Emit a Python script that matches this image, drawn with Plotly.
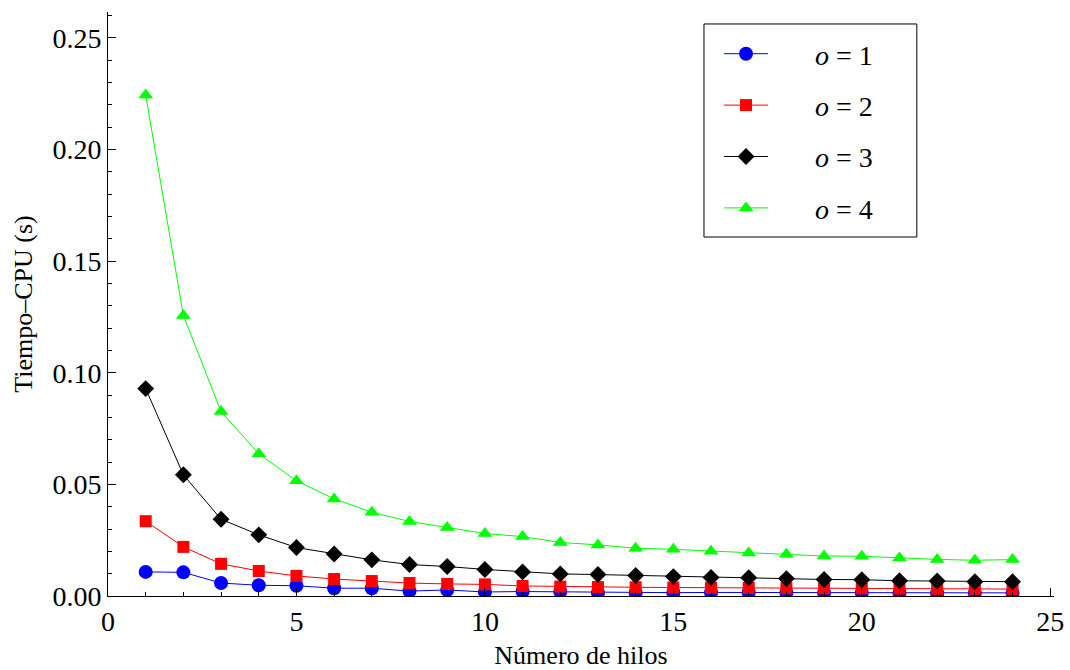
import plotly.graph_objects as go

# Número de hilos (threads)
hilos = list(range(1, 25))

# Tiempo-CPU (s) for each order o
t_o1 = [0.0108, 0.0106, 0.0058, 0.0048, 0.0046, 0.0035, 0.0035, 0.0022, 0.0027, 0.0018,
        0.0020, 0.0019, 0.0015, 0.0015, 0.0015, 0.0016, 0.0016, 0.0015, 0.0015, 0.0015,
        0.0014, 0.0013, 0.0014, 0.0014]
t_o2 = [0.0335, 0.0220, 0.0144, 0.0112, 0.0090, 0.0076, 0.0067, 0.0058, 0.0054, 0.0052,
        0.0045, 0.0042, 0.0040, 0.0039, 0.0038, 0.0037, 0.0036, 0.0035, 0.0034, 0.0034,
        0.0033, 0.0032, 0.0032, 0.0031]
t_o3 = [0.0929, 0.0543, 0.0344, 0.0274, 0.0217, 0.0188, 0.0162, 0.0141, 0.0132, 0.0119,
        0.0108, 0.0099, 0.0096, 0.0092, 0.0087, 0.0083, 0.0082, 0.0078, 0.0074, 0.0073,
        0.0068, 0.0067, 0.0064, 0.0064]
t_o4 = [0.2244, 0.1257, 0.0826, 0.0637, 0.0516, 0.0435, 0.0375, 0.0334, 0.0307, 0.0280,
        0.0266, 0.0240, 0.0229, 0.0214, 0.0209, 0.0201, 0.0193, 0.0187, 0.0179, 0.0178,
        0.0170, 0.0164, 0.0160, 0.0163]

series = [
    ("<i>o</i> = 1", t_o1, "#0000ff", "circle", 14),
    ("<i>o</i> = 2", t_o2, "#ff0000", "square", 12),
    ("<i>o</i> = 3", t_o3, "#000000", "diamond", 13),
    ("<i>o</i> = 4", t_o4, "#00ff00", "triangle-up", 13),
]

FONT = "Liberation Serif, Times New Roman, serif"
pad = "\u00a0" * 6

fig = go.Figure()
for i, (name, vals, color, symbol, size) in enumerate(series):
    fig.add_trace(go.Scatter(
        x=hilos, y=vals, mode="lines+markers",
        name=pad + name,
        legendgroup=f"g{i}",
        line=dict(color=color, width=1),
        marker=dict(color=color, symbol=symbol, size=size, line=dict(width=0)),
    ))

axis_common = dict(
    showline=True, linecolor="black", linewidth=1,
    ticks="inside", tickcolor="black", ticklen=8, tickwidth=1,
    showgrid=False, zeroline=False, automargin=False,
    tickfont=dict(family=FONT, size=28, color="black"),
)

fig.update_xaxes(
    range=[0, 25.1], tickmode="array", tickvals=[0, 5, 10, 15, 20, 25],
    minor=dict(dtick=1, tick0=0, ticks="inside", ticklen=4, tickcolor="black", showgrid=False),
    title=dict(text="Número de hilos", font=dict(family=FONT, size=26, color="black"), standoff=10),
    **axis_common,
)
fig.update_yaxes(
    range=[0, 0.2616], tickmode="array", tickvals=[0, 0.05, 0.10, 0.15, 0.20, 0.25],
    ticktext=["0.00", "0.05", "0.10", "0.15", "0.20", "0.25"],
    minor=dict(dtick=0.01, tick0=0, ticks="inside", ticklen=4, tickcolor="black", showgrid=False),
    title=dict(text="Tiempo–CPU (s)", font=dict(family=FONT, size=26, color="black"), standoff=12),
    **axis_common,
)

# legend frame
fig.add_shape(
    type="rect", xref="paper", yref="paper",
    x0=0.630, x1=0.855, y0=0.6147, y1=0.9795,
    line=dict(color="black", width=1), fillcolor="white", layer="below",
)

fig.update_layout(
    width=1070, height=670,
    margin=dict(l=108, r=16, t=12, b=74),
    paper_bgcolor="white", plot_bgcolor="white",
    font=dict(family=FONT, color="black"),
    legend=dict(
        x=0.6459, y=0.9709, xanchor="left", yanchor="top",
        bgcolor="rgba(0,0,0,0)", borderwidth=0,
        font=dict(family=FONT, size=28, color="black"),
        itemwidth=44, tracegroupgap=12, traceorder="grouped",
    ),
    showlegend=True,
)

fig.write_html("out.html")
